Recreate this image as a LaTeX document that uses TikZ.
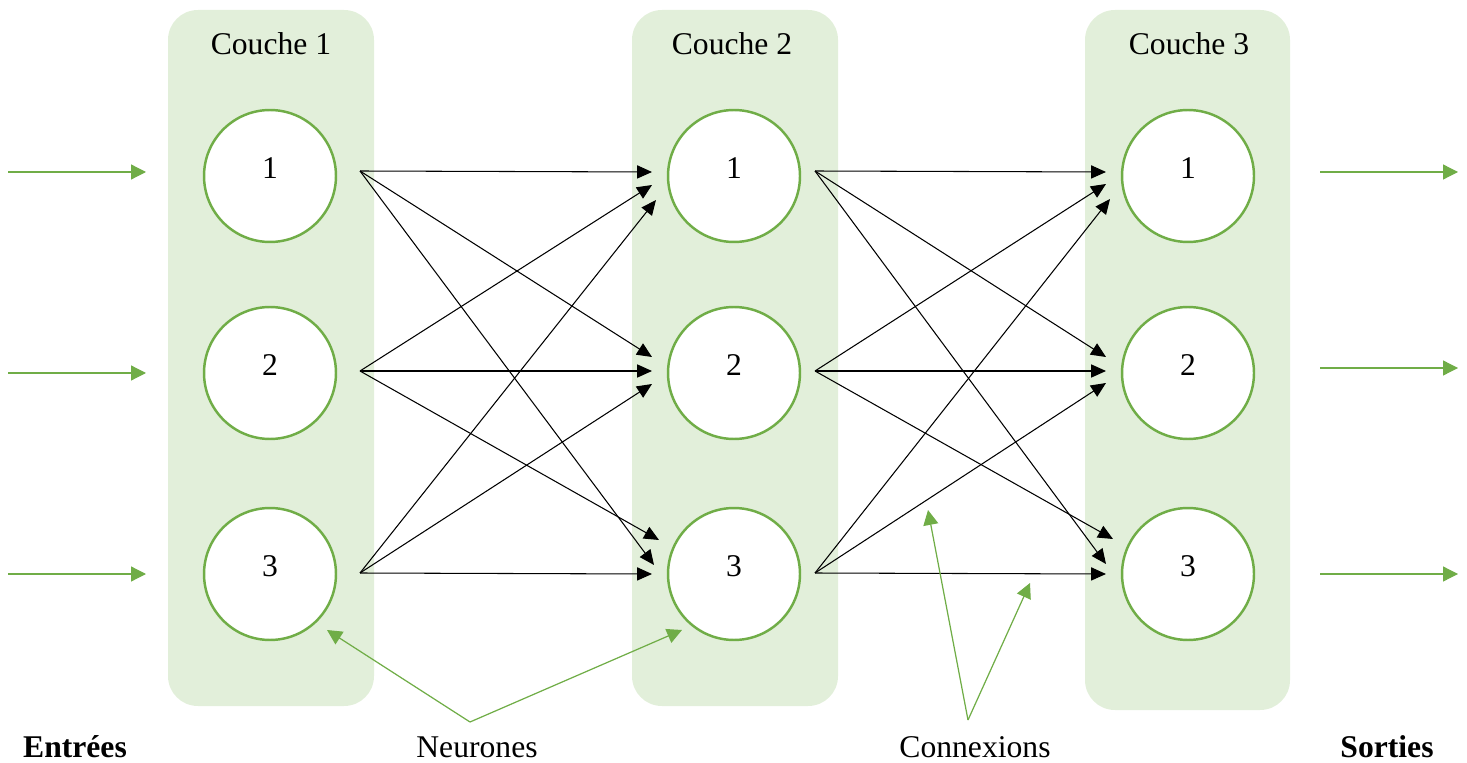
\documentclass[tikz,border=0pt]{standalone}
\usepackage{fontspec}
\setmainfont{Liberation Serif}
\usetikzlibrary{arrows.meta}
\definecolor{layergreen}{HTML}{E2EFDA}
\definecolor{linegreen}{HTML}{70AD47}
\tikzset{
	layer/.style={fill=layergreen, rounded corners=17pt},
	neuron/.style={circle, draw=linegreen, line width=1.4pt, fill=white,
		minimum size=2.64cm, inner sep=0pt, text depth=9pt},
	link/.style={line width=0.6pt, -{Triangle[length=8.5pt,width=7.5pt]}},
	flow/.style={draw=linegreen, line width=0.7pt,
		-{Triangle[length=8.5pt,width=8.5pt,fill=linegreen]}},
}
\begin{document}
\begin{tikzpicture}[x=0.02cm, y=-0.02cm, font=\fontsize{18}{22}\selectfont]
	\useasboundingbox (0,0) rectangle (1467,763);
	% couches
	\fill[layer] (168,10) rectangle (374,706);
	\fill[layer] (632,10) rectangle (838,706);
	\fill[layer] (1085,10) rectangle (1290,710);
	\node (c1) at (271,44) {Couche 1};
	\node (c2) at (732,44) {Couche 2};
	\node (c3) at (1189,44) {Couche 3};
	% neurones
	\foreach \k/\y in {1/176,2/373,3/574}{
		\node[neuron] (n1\k) at (270,\y) {\k};
		\node[neuron] (n2\k) at (734,\y) {\k};
		\node[neuron] (n3\k) at (1188,\y) {\k};
	}
	\path
	coordinate (s11) at (360,171)
	coordinate (s12) at (360,371)
	coordinate (s13) at (360,573)
	coordinate (s21) at (815,171)
	coordinate (s22) at (815,371)
	coordinate (s23) at (815,573)
	;
	% connexions couche 1 -> couche 2
	\foreach \s/\t/\x/\y in {1/1/652/172, 2/1/652/185, 3/1/656/200,
		1/2/652/357, 2/2/652/371, 3/2/652/384,
		1/3/654/565, 2/3/659/540, 3/3/652/574}{
		\path (\x,\y) coordinate (t1\s\t);
		\draw[link] (s1\s) -- (t1\s\t);
	}
	% connexions couche 2 -> couche 3
	\foreach \s/\t/\x/\y in {1/1/1106/172, 2/1/1106/184, 3/1/1110/199,
		1/2/1106/357, 2/2/1106/371, 3/2/1106/383,
		1/3/1106/564, 2/3/1113/539, 3/3/1106/574}{
		\path (\x,\y) coordinate (t2\s\t);
		\draw[link] (s2\s) -- (t2\s\t);
	}
	% entrees et sorties
	\foreach \k/\y/\z in {1/172/172,2/373/368,3/574/574}{
		\path coordinate (in\k) at (8,\y) coordinate (ine\k) at (146,\y);
		\path coordinate (out\k) at (1320,\z) coordinate (oute\k) at (1458,\z);
		\draw[flow] (in\k) -- (ine\k);
		\draw[flow] (out\k) -- (oute\k);
	}
	% legendes
	\node[font=\fontsize{18}{22}\selectfont\bfseries] (entrees) at (75,747) {Entrées};
	\node[font=\fontsize{18}{22}\selectfont\bfseries] (sorties) at (1387,747) {Sorties};
	\node (neur) at (477,747) {Neurones};
	\node (conn) at (975,747) {Connexions};
	\path
	coordinate (nfork) at (470,722)
	coordinate (na) at (327,630)
	coordinate (nb) at (682,630)
	coordinate (cfork) at (968,720)
	coordinate (ca) at (928,510)
	coordinate (cb) at (1030,583)
	;
	\draw[flow] (nfork) -- (na);
	\draw[flow] (nfork) -- (nb);
	\draw[flow] (cfork) -- (ca);
	\draw[flow] (cfork) -- (cb);
\end{tikzpicture}
\end{document}
